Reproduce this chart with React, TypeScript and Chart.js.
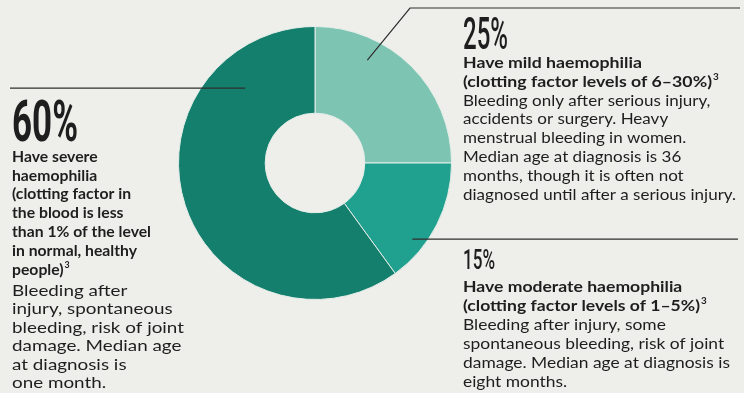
import React, { useEffect, useRef } from 'react';
import { Chart, registerables } from 'chart.js';

Chart.register(...registerables);

// ---- data ----
const categories = ['Mild haemophilia', 'Moderate haemophilia', 'Severe haemophilia'];
const shares = [25, 15, 60];
const sliceColors = ['#7ec4b3', '#20a08e', '#157f6e'];
const percentLabels = ['25%', '15%', '60%'];
const mildBold = ['Have mild haemophilia', '(clotting factor levels of 6–30%)³'];
const mildText = [
  'Bleeding only after serious injury,',
  'accidents or surgery. Heavy',
  'menstrual bleeding in women.',
  'Median age at diagnosis is 36',
  'months, though it is often not',
  'diagnosed until after a serious injury.',
];
const moderateBold = ['Have moderate haemophilia', '(clotting factor levels of 1–5%)³'];
const moderateText = [
  'Bleeding after injury, some',
  'spontaneous bleeding, risk of joint',
  'damage. Median age at diagnosis is',
  'eight months.',
];
const severeBold = [
  'Have severe',
  'haemophilia',
  '(clotting factor in',
  'the blood is less',
  'than 1% of the level',
  'in normal, healthy',
  'people)³',
];
const severeText = [
  'Bleeding after',
  'injury, spontaneous',
  'bleeding, risk of joint',
  'damage. Median age',
  'at diagnosis is',
  'one month.',
];

const BG = '#eeeeea';
const INK = '#1e1e1e';
const BODY_FONT = 'Lato, "Open Sans", sans-serif';
const PCT_FONT = 'Roboto, "DejaVu Sans", sans-serif';

function plain(t: string) {
  return t.endsWith('³') ? t.slice(0, -1) : t;
}

function drawLine(ctx: CanvasRenderingContext2D, text: string, x: number, y: number, font: string, size: number, sx: number) {
  ctx.save();
  ctx.translate(x, y);
  ctx.scale(sx, 1);
  ctx.font = font;
  const main = plain(text);
  ctx.fillText(main, 0, 0);
  if (text.endsWith('³')) {
    const w = ctx.measureText(main).width;
    ctx.font = font.replace(/\d+(\.\d+)?px/, Math.round(size * 0.55) + 'px');
    ctx.fillText('3', w + 1, -size * 0.42);
  }
  ctx.restore();
}

function fitScale(ctx: CanvasRenderingContext2D, font: string, line: string, targetW: number) {
  ctx.font = font;
  return targetW / ctx.measureText(plain(line)).width;
}

function drawPct(ctx: CanvasRenderingContext2D, text: string, x: number, y: number, weight: number, size: number, targetW: number) {
  ctx.save();
  ctx.font = `${weight} ${size}px ${PCT_FONT}`;
  const w = ctx.measureText(text).width;
  ctx.translate(x, y);
  ctx.scale(targetW / w, 1);
  ctx.fillText(text, 0, 0);
  ctx.restore();
}

interface BlockSpec {
  x: number;
  pct: string;
  pctBase: number;
  pctWeight: number;
  pctSize: number;
  pctW: number;
  bold: string[];
  body: string[];
  boldBase: number;
  boldLh: number;
  bodyBase: number;
  bodyLh: number;
  boldFitIdx: number;
  boldFitW: number;
  bodyFitIdx: number;
  bodyFitW: number;
}

function drawBlock(ctx: CanvasRenderingContext2D, s: BlockSpec) {
  ctx.fillStyle = INK;
  ctx.textAlign = 'left';
  ctx.textBaseline = 'alphabetic';
  drawPct(ctx, s.pct, s.x, s.pctBase, s.pctWeight, s.pctSize, s.pctW);
  const boldFont = `bold 16px ${BODY_FONT}`;
  const bodyFont = `16px ${BODY_FONT}`;
  const bsx = fitScale(ctx, boldFont, s.bold[s.boldFitIdx], s.boldFitW);
  const rsx = fitScale(ctx, bodyFont, s.body[s.bodyFitIdx], s.bodyFitW);
  s.bold.forEach((t, i) => drawLine(ctx, t, s.x, s.boldBase + i * s.boldLh, boldFont, 16, bsx));
  s.body.forEach((t, i) => drawLine(ctx, t, s.x, s.bodyBase + i * s.bodyLh, bodyFont, 16, rsx));
}

const annotPlugin = {
  id: 'annot',
  beforeDraw(chart: any) {
    const ctx = chart.ctx as CanvasRenderingContext2D;
    ctx.save();
    ctx.fillStyle = BG;
    ctx.fillRect(0, 0, chart.width, chart.height);
    ctx.restore();
  },
  afterDraw(chart: any) {
    const ctx = chart.ctx as CanvasRenderingContext2D;
    const meta = chart.getDatasetMeta(0);
    const arc = meta.data[0] as any;
    const cx = arc.x;
    const cy = arc.y;
    const R = arc.outerRadius;
    const polar = (deg: number, f: number) => {
      const a = (deg * Math.PI) / 180;
      return [cx + R * f * Math.sin(a), cy - R * f * Math.cos(a)];
    };
    ctx.save();
    ctx.strokeStyle = '#2e2e2e';
    ctx.lineWidth = 1.2;
    const pm = polar(27, 0.845);
    ctx.beginPath();
    ctx.moveTo(pm[0], pm[1]);
    ctx.lineTo(410, 8);
    ctx.lineTo(740, 8);
    ctx.stroke();
    const ps = polar(317, 0.75);
    ctx.beginPath();
    ctx.moveTo(ps[0], ps[1]);
    ctx.lineTo(10, ps[1]);
    ctx.stroke();
    const pd = polar(128, 0.905);
    ctx.beginPath();
    ctx.moveTo(pd[0], pd[1]);
    ctx.lineTo(738, pd[1]);
    ctx.stroke();
    ctx.restore();

    drawBlock(ctx, {
      x: 12, pct: percentLabels[2], pctBase: 141, pctWeight: 700, pctSize: 57, pctW: 66,
      bold: severeBold, body: severeText,
      boldBase: 161.7, boldLh: 18.8, bodyBase: 296, bodyLh: 18.4,
      boldFitIdx: 4, boldFitW: 139, bodyFitIdx: 2, bodyFitW: 172,
    });
    drawBlock(ctx, {
      x: 463, pct: percentLabels[0], pctBase: 49, pctWeight: 500, pctSize: 44, pctW: 45,
      bold: mildBold, body: mildText,
      boldBase: 68, boldLh: 19, bodyBase: 105.5, bodyLh: 18.9,
      boldFitIdx: 1, boldFitW: 249, bodyFitIdx: 5, bodyFitW: 273,
    });
    drawBlock(ctx, {
      x: 463, pct: percentLabels[1], pctBase: 269, pctWeight: 500, pctSize: 28, pctW: 32,
      bold: moderateBold, body: moderateText,
      boldBase: 292, boldLh: 19, bodyBase: 330, bodyLh: 19,
      boldFitIdx: 1, boldFitW: 237, bodyFitIdx: 2, bodyFitW: 267,
    });
  },
};

export default function App() {
  const ref = useRef<HTMLCanvasElement | null>(null);
  useEffect(() => {
    document.body.style.margin = '0';
    const canvas = ref.current;
    if (!canvas) return;
    const chart = new Chart(canvas, {
      type: 'doughnut',
      data: {
        labels: categories,
        datasets: [
          {
            data: shares,
            backgroundColor: sliceColors,
            borderColor: '#e4eee9',
            borderWidth: 1,
          },
        ],
      },
      options: {
        animation: false,
        responsive: false,
        devicePixelRatio: 1,
        cutout: '36.5%',
        layout: { padding: { left: 178, right: 292, top: 26, bottom: 93 } },
        plugins: { legend: { display: false }, tooltip: { enabled: false } },
      },
      plugins: [annotPlugin],
    });
    return () => chart.destroy();
  }, []);
  return (
    <div style={{ width: 744, height: 393, position: 'relative' }}>
      <canvas ref={ref} width={744} height={393} style={{ display: 'block' }} />
    </div>
  );
}
